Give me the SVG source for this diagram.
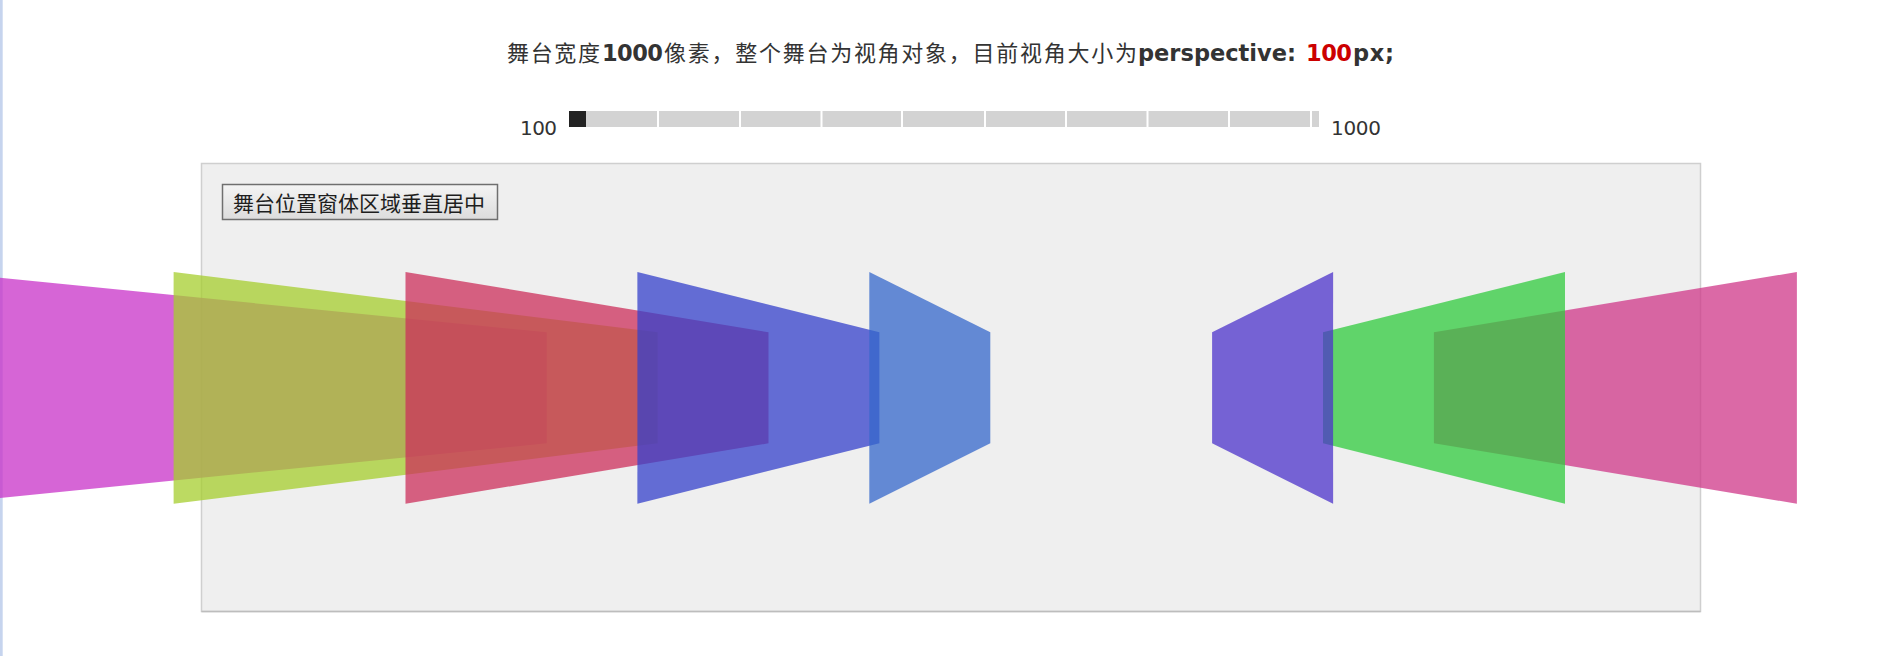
<svg xmlns="http://www.w3.org/2000/svg" width="1894" height="656" viewBox="0 0 1894 656">
<defs>
<linearGradient id="btnGrad" x1="0" y1="0" x2="0" y2="1">
<stop offset="0" stop-color="#f4f4f4"/>
<stop offset="1" stop-color="#dcdcdc"/>
</linearGradient>
<style>
.cjk{font-family:"Noto Sans CJK SC","Noto Sans",sans-serif;}
.lat{font-family:"DejaVu Sans","Liberation Sans",sans-serif;}
.bold{font-weight:bold;}
.card{fill-opacity:0.75;stroke:none;}
</style>
</defs>
<rect x="0" y="0" width="1894" height="656" fill="#ffffff"/>
<rect x="0" y="0" width="2.7" height="656" fill="#c6d4ee"/>

<g id="title">
<text y="61" fill="#333333" font-size="22">
<tspan class="cjk" x="507" textLength="93">舞台宽度</tspan>
<tspan class="lat bold" x="602" font-size="22.5" textLength="61">1000</tspan>
<tspan class="cjk" x="664" textLength="473">像素，整个舞台为视角对象，目前视角大小为</tspan>
<tspan class="lat bold" x="1138" font-size="22.5" textLength="158">perspective:</tspan>
<tspan class="lat bold" x="1306" font-size="22.5" textLength="46" fill="#cc0000">100</tspan>
<tspan class="lat bold" x="1353" font-size="22.5" textLength="41">px;</tspan>
</text>
</g>

<g id="slider">
<text class="lat" x="520" y="135" font-size="20" fill="#333333" textLength="37">100</text>
<rect x="569" y="111" width="750" height="16" fill="#d3d3d3"/>
<g fill="#ffffff">
<rect x="657" y="111" width="2" height="16"/>
<rect x="739" y="111" width="2" height="16"/>
<rect x="820.5" y="111" width="2" height="16"/>
<rect x="901" y="111" width="2" height="16"/>
<rect x="984" y="111" width="2" height="16"/>
<rect x="1065" y="111" width="2" height="16"/>
<rect x="1146.5" y="111" width="2" height="16"/>
<rect x="1228" y="111" width="2" height="16"/>
<rect x="1310" y="111" width="2" height="16"/>
</g>
<rect x="569" y="111" width="17" height="16" fill="#222222"/>
<text class="lat" x="1331" y="135" font-size="20" fill="#333333" textLength="50">1000</text>
</g>

<g id="stage">
<rect x="201.5" y="163.5" width="1499" height="448" fill="#efefef" stroke="#cfcfcf" stroke-width="1.5"/>
<line x1="201.5" y1="611.5" x2="1700.5" y2="611.5" stroke="#bdbdbd" stroke-width="1.5"/>
</g>

<g id="button">
<rect x="222.5" y="184.5" width="275" height="35" fill="url(#btnGrad)" stroke="#6f6f6f" stroke-width="1.5"/>
<text class="cjk" x="233" y="211" font-size="21" fill="#1e1e1e" textLength="252">舞台位置窗体区域垂直居中</text>
</g>

<g id="card-magenta"><polygon class="card" fill="#c832c8" points="-58.3,272 546.7,332.3 546.7,443.3 -58.3,503.7"/></g>
<g id="card-yellow"><polygon class="card" fill="#a6ce2e" points="173.6,272 657.6,332.3 657.6,443.3 173.6,503.7"/></g>
<g id="card-red"><polygon class="card" fill="#cc2f5b" points="405.5,272 768.5,332.3 768.5,443.3 405.5,503.7"/></g>
<g id="card-blue"><polygon class="card" fill="#3440cb" points="637.4,272 879.4,332.3 879.4,443.3 637.4,503.7"/></g>
<g id="card-pink"><polygon class="card" fill="#cf3788" points="1796.9,272 1433.9,332.3 1433.9,443.3 1796.9,503.7"/></g>
<g id="card-green"><polygon class="card" fill="#30cb3e" points="1565,272 1323,332.3 1323,443.3 1565,503.7"/></g>
<g id="card-lightblue"><polygon class="card" fill="#3467cb" points="869.3,272 990.3,332.3 990.3,443.3 869.3,503.7"/></g>
<g id="card-purple"><polygon class="card" fill="#4c33cb" points="1333.1,272 1212.1,332.3 1212.1,443.3 1333.1,503.7"/></g>
</svg>
